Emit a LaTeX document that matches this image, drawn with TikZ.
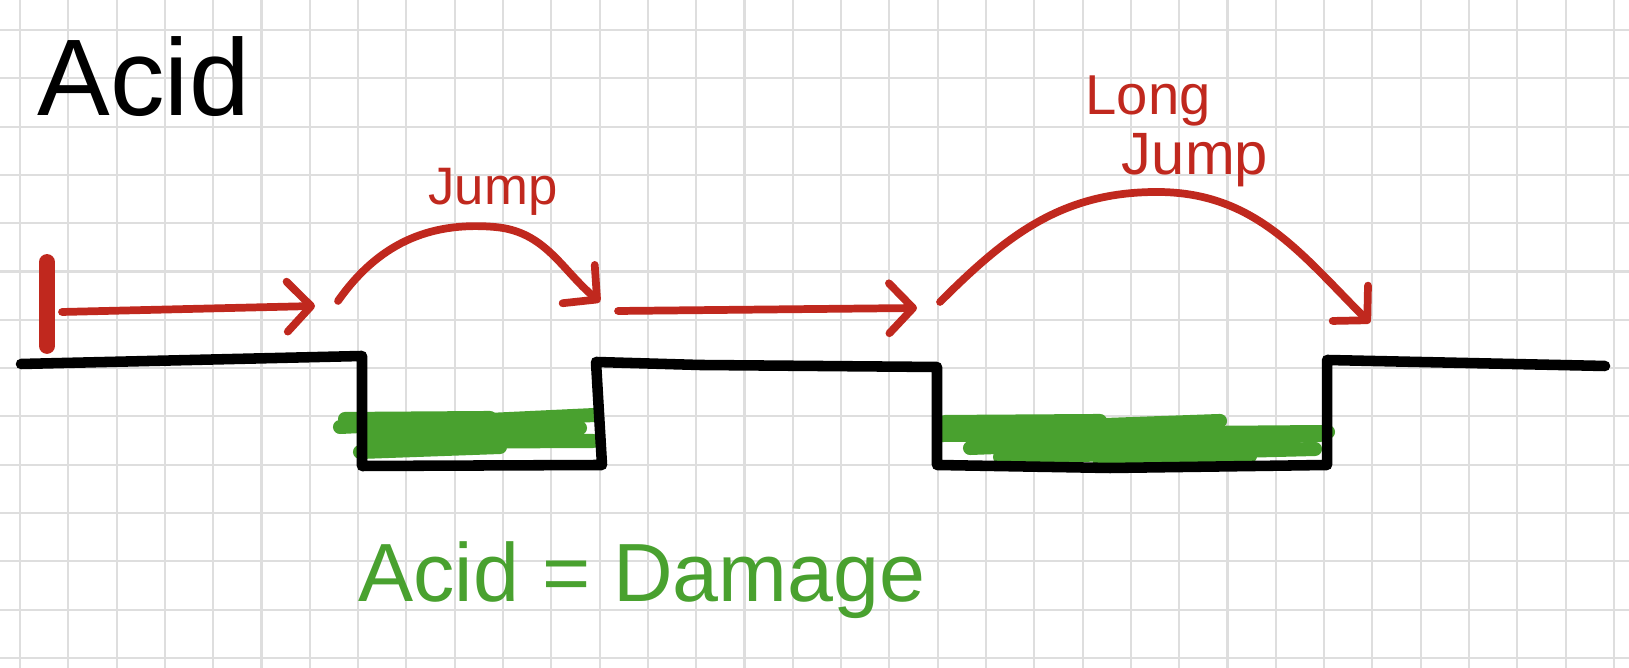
\documentclass[tikz,border=0pt]{standalone}
\usepackage{fontspec}
\setmainfont{Liberation Sans}
\definecolor{acidred}{RGB}{192,40,30}
\definecolor{acidgreen}{RGB}{73,161,47}
\definecolor{gridgray}{RGB}{222,222,222}
\usetikzlibrary{arrows.meta}

\begin{document}
\begin{tikzpicture}[
  ground/.style={line width=3pt, line join=round, line cap=round},
  move/.style={acidred, line width=2.2pt, line cap=round,
    -{Straight Barb[length=2.4mm,width=5mm,round]}},
  slime/.style={acidgreen, line width=4pt, line cap=round}]
\useasboundingbox (0,0) rectangle (16.29,6.68);
\fill[white] (0,0) rectangle (16.29,6.68);

% Paper grid
\foreach \i in {0,...,33}
  \draw[gridgray, line width=0.6pt] ({0.20+0.483*\i},0) -- ({0.20+0.483*\i},6.68);
\foreach \j in {0,...,13}
  \draw[gridgray, line width=0.6pt] (0,{6.38-0.483*\j}) -- (16.29,{6.38-0.483*\j});

% Title
\node[font=\fontsize{31}{31}\selectfont, anchor=base west, inner sep=0pt] (title) at (0.37,5.52) {Acid};

% Acid in the pits
\draw[slime] (3.40,2.41) -- (5.95,2.53);
\draw[slime] (3.45,2.49) -- (4.90,2.50);
\draw[slime] (3.70,2.34) -- (5.80,2.40);
\draw[slime] (3.68,2.26) -- (5.93,2.27);
\draw[slime] (3.60,2.16) -- (5.00,2.21);
\draw[slime] (9.42,2.33) -- (13.28,2.36);
\draw[slime] (9.45,2.46) -- (11.00,2.47);
\draw[slime] (10.20,2.40) -- (12.20,2.47);
\draw[slime] (9.75,2.23) -- (12.00,2.30);
\draw[slime] (9.70,2.20) -- (13.20,2.33);
\draw[slime] (10.00,2.11) -- (13.15,2.19);
\draw[slime] (11.00,2.06) -- (12.50,2.12);

% Ground and pits
\draw[ground] (0.21,3.04) -- (3.62,3.12) -- (3.62,2.02) -- (6.02,2.03) -- (5.96,3.06)
  -- (7.00,3.03) -- (9.37,3.01) -- (9.37,2.03) -- (11.10,2.00) -- (13.27,2.03)
  -- (13.27,3.08) -- (16.05,3.02);

% Start marker
\draw[acidred, line width=4.5pt, line cap=round] (0.47,3.22) -- (0.47,4.06);

% Path of the player
\coordinate (s1) at (0.62,3.56);
\coordinate (a1) at (3.15,3.62);
\coordinate (j1s) at (3.38,3.67);
\coordinate (j1top) at (4.95,4.41);
\coordinate (j1e) at (6.00,3.66);
\coordinate (s2) at (6.18,3.57);
\coordinate (a2) at (9.17,3.60);
\coordinate (j2s) at (9.40,3.66);
\coordinate (j2top) at (11.57,4.76);
\coordinate (j2e) at (13.70,3.45);

\draw[move] (s1) -- (a1);
\draw[move] (j1s) to[out=55,in=175] (j1top) to[out=-5,in=140] (j1e);
\draw[move] (s2) -- (a2);
\draw[move] (j2s) to[out=45,in=180] (j2top) to[out=0,in=135] (j2e);

% Labels
\node[font=\fontsize{15}{15}\selectfont, acidred, anchor=base] (jumplbl) at (4.93,4.63) {Jump};
\node[font=\fontsize{16}{16}\selectfont, acidred, anchor=base] (longlbl) at (11.48,5.53) {Long};
\node[font=\fontsize{17}{17}\selectfont, acidred, anchor=base] (longjumplbl) at (11.95,4.93) {Jump};
\node[font=\fontsize{23.5}{24}\selectfont, acidgreen, anchor=base] (damagelbl) at (6.42,0.66) {Acid = Damage};

\end{tikzpicture}
\end{document}
